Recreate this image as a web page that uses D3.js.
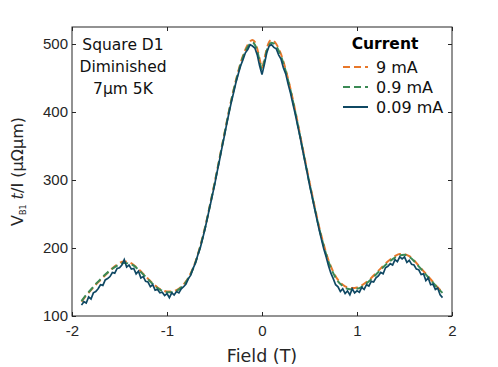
<!DOCTYPE html>
<html>
<head>
<meta charset="utf-8">
<script src="https://cdn.jsdelivr.net/npm/d3@7"></script>
<style>
  body { margin: 0; background: #fff; }
  svg { font-family: "DejaVu Sans", sans-serif; }
</style>
</head>
<body>
<svg id="chart" width="498" height="367"></svg>
<script>
// smooth curves, sampled every 0.05 T (plus extra points around the central dip)
const fieldSmooth = [-1.9,-1.85,-1.8,-1.75,-1.7,-1.65,-1.6,-1.55,-1.5,-1.45,-1.4,-1.35,-1.3,-1.25,-1.2,-1.15,-1.1,-1.05,-1.0,-0.95,-0.9,-0.85,-0.8,-0.75,-0.7,-0.65,-0.6,-0.55,-0.5,-0.45,-0.4,-0.35,-0.3,-0.25,-0.2,-0.15,-0.1,-0.075,-0.05,-0.025,0,0.025,0.05,0.075,0.1,0.15,0.2,0.25,0.3,0.35,0.4,0.45,0.5,0.55,0.6,0.65,0.7,0.75,0.8,0.85,0.9,0.95,1.0,1.05,1.1,1.15,1.2,1.25,1.3,1.35,1.4,1.45,1.5,1.55,1.6,1.65,1.7,1.75,1.8,1.85,1.9];
const r9mA = [121,130,138,146,153,160,167,173,178,180,179,175,169,162,155,148,142,138,136,136,138,143,151,163,180,203,230,262,295,330,365,400,432,460,483,499,506,503,493,478,465,478,493,503,506,500,485,462,434,402,367,332,297,264,232,205,182,165,153,146,142,141,142,145,150,156,163,170,177,183,188,191,191,188,182,174,166,158,150,142,135];
const r09mA = [122,131,139,147,154,161,167,172,176,178,177,174,168,161,154,147,141,137,135,135,137,142,150,162,179,202,229,261,294,329,364,399,431,458,481,496,502,499,490,475,462,475,490,499,502,497,482,460,432,400,365,330,295,262,230,203,180,163,151,144,140,139,140,143,148,154,161,168,175,181,186,189,190,187,181,173,165,157,149,141,134];

// noisy low-current trace, every 0.025 T
const fieldNoisy = d3.range(153).map(i => -1.9 + i * 0.025);
const r009mA = [116,121,119,128,125,134,136,140,146,145,153,155,158,164,163,170,171,175,183,172,175,169,170,162,166,156,158,151,150,143,146,138,139,134,135,130,133,127,134,131,136,134,140,143,147,155,160,170,178,190,200,214,228,244,260,276,292,310,327,345,362,380,397,413,428,443,456,468,477,487,492,499,497,494,484,468,455,470,487,497,499,495,493,484,478,465,456,441,428,412,397,380,364,346,328,311,293,277,260,244,228,213,199,187,174,163,155,146,143,136,140,133,137,131,140,134,137,135,142,139,146,144,151,150,156,159,164,162,171,173,177,175,183,180,187,184,187,179,182,176,175,169,168,161,162,152,156,146,147,139,141,131,127];

const seriesNames = ["9 mA", "0.9 mA", "0.09 mA"];
const seriesColors = ["#e8772a", "#3b8a55", "#0f4863"];
const xTicks = [-2, -1, 0, 1, 2];
const yTicks = [100, 200, 300, 400, 500];
const infoLines = ["Square D1", "Diminished", "7\u00b5m 5K"];

const svg = d3.select("#chart");
const margin = { top: 27, right: 46, bottom: 51, left: 72 };
const width = 498 - margin.left - margin.right;
const height = 367 - margin.top - margin.bottom;

const x = d3.scaleLinear().domain([-2, 2]).range([0, width]);
const y = d3.scaleLinear().domain([100, 525]).range([height, 0]);

const g = svg.append("g").attr("transform", `translate(${margin.left},${margin.top})`);

const line = d3.line()
  .x(d => x(d[0]))
  .y(d => y(d[1]));

const smoothLine = d3.line()
  .x(d => x(d[0]))
  .y(d => y(d[1]))
  .curve(d3.curveMonotoneX);

g.append("path")
  .datum(fieldSmooth.map((f, i) => [f, r9mA[i]]))
  .attr("d", smoothLine)
  .attr("fill", "none")
  .attr("stroke", seriesColors[0])
  .attr("stroke-width", 2)
  .attr("stroke-dasharray", "7,4");

g.append("path")
  .datum(fieldSmooth.map((f, i) => [f, r09mA[i]]))
  .attr("d", smoothLine)
  .attr("fill", "none")
  .attr("stroke", seriesColors[1])
  .attr("stroke-width", 2)
  .attr("stroke-dasharray", "7,4");

g.append("path")
  .datum(fieldNoisy.map((f, i) => [f, r009mA[i]]))
  .attr("d", line)
  .attr("fill", "none")
  .attr("stroke", seriesColors[2])
  .attr("stroke-width", 1.7);

// axes with inward ticks on all four sides
function styleAxis(sel) {
  sel.select(".domain").remove();
  sel.selectAll("line").attr("stroke", "#262626");
  sel.selectAll("text").attr("fill", "#262626").style("font-size", "15px");
}

g.append("g")
  .attr("transform", `translate(0,${height})`)
  .call(d3.axisBottom(x).tickValues(xTicks).tickSizeInner(-4).tickPadding(9).tickFormat(d => String(d)))
  .call(styleAxis);
g.append("g")
  .call(d3.axisTop(x).tickValues(xTicks).tickSizeInner(-4).tickFormat(""))
  .call(styleAxis);
g.append("g")
  .call(d3.axisLeft(y).tickValues(yTicks).tickSizeInner(-4).tickPadding(4))
  .call(styleAxis);
g.append("g")
  .attr("transform", `translate(${width},0)`)
  .call(d3.axisRight(y).tickValues(yTicks).tickSizeInner(-4).tickFormat(""))
  .call(styleAxis);

g.append("rect")
  .attr("width", width)
  .attr("height", height)
  .attr("fill", "none")
  .attr("stroke", "#262626")
  .attr("stroke-width", 1);

// labels
svg.append("text")
  .attr("x", margin.left + width / 2)
  .attr("y", 362)
  .attr("text-anchor", "middle")
  .attr("fill", "#262626")
  .style("font-size", "17.5px")
  .text("Field (T)");

const yl = svg.append("text")
  .attr("transform", `translate(23,${margin.top + height / 2}) rotate(-90)`)
  .attr("text-anchor", "middle")
  .attr("fill", "#262626")
  .style("font-size", "16px");
yl.append("tspan").text("V");
yl.append("tspan").attr("dy", 3).style("font-size", "8px").text("B1");
yl.append("tspan").attr("dy", -3).text(" ");
yl.append("tspan").style("font-family", "'DejaVu Serif', serif").style("font-style", "italic").text("t");
yl.append("tspan").text("/I (\u03bc\u03a9\u03bcm)");

// info block
g.selectAll("text.info")
  .data(infoLines)
  .enter()
  .append("text")
  .attr("class", "info")
  .attr("x", 51)
  .attr("y", (d, i) => 23 + i * 22)
  .attr("text-anchor", "middle")
  .attr("fill", "#111")
  .style("font-size", "15.5px")
  .text(d => d);

// legend
const legend = svg.append("g").attr("transform", "translate(343,0)");
legend.append("text")
  .attr("x", 42)
  .attr("y", 49)
  .attr("text-anchor", "middle")
  .attr("fill", "#000")
  .style("font-size", "15.5px")
  .style("font-weight", "bold")
  .text("Current");
seriesNames.forEach((name, i) => {
  const yy = 67 + i * 20;
  legend.append("line")
    .attr("x1", 0).attr("x2", 25)
    .attr("y1", yy).attr("y2", yy)
    .attr("stroke", seriesColors[i])
    .attr("stroke-width", 2)
    .attr("stroke-dasharray", i < 2 ? "7,4" : null);
  legend.append("text")
    .attr("x", 33)
    .attr("y", yy + 6)
    .attr("fill", "#111")
    .style("font-size", "16px")
    .text(name);
});
</script>
</body>
</html>
